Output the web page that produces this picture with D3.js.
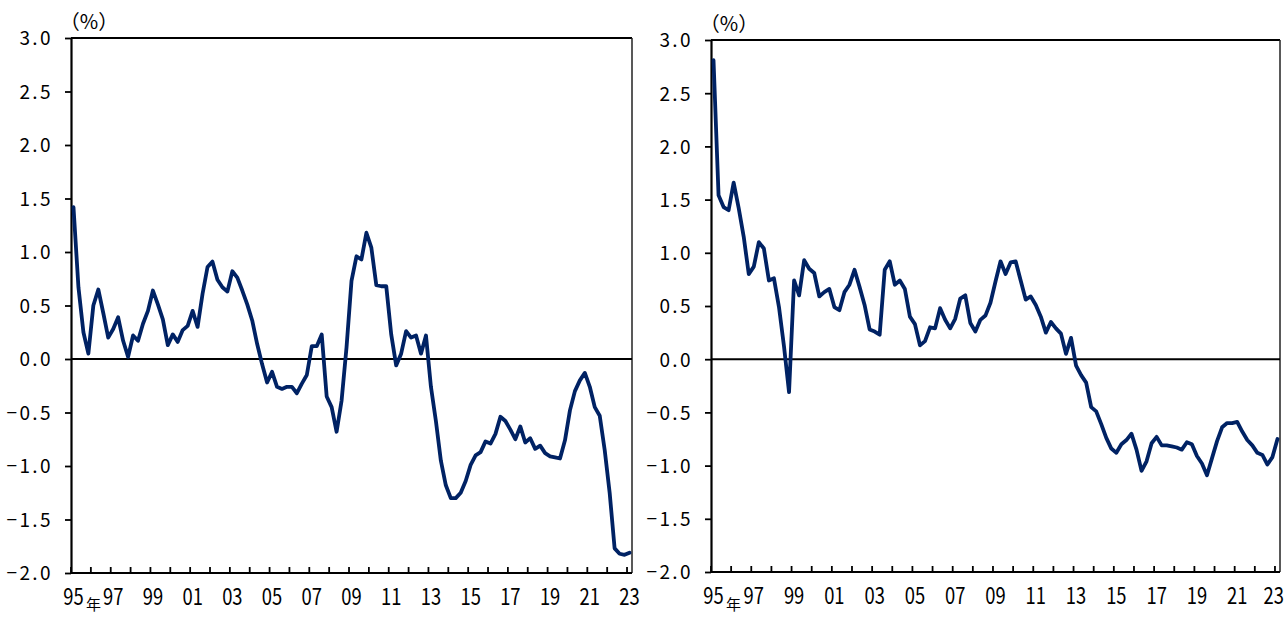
<!DOCTYPE html>
<html>
<head>
<meta charset="utf-8">
<script src="https://cdn.jsdelivr.net/npm/d3@7"></script>
<style>
  html, body { margin: 0; padding: 0; background: #ffffff; }
  svg { display: block; }
  text { font-family: "Noto Sans CJK JP", "Noto Sans", sans-serif; fill: #000; }
</style>
</head>
<body>
<svg id="chart" width="1285" height="617"></svg>
<script>
// Quarterly categories, 1995Q1 .. 2023Q1
const quarters = [];
for (let y = 1995; y <= 2023; y++) {
  for (let q = 1; q <= 4; q++) {
    if (y === 2023 && q > 1) break;
    quarters.push(y + "Q" + q);
  }
}

// Year labels shown every two years (placed on each year's first quarter)
const yearLabels = ["95","97","99","01","03","05","07","09","11","13","15","17","19","21","23"];
const labelYears = [1995,1997,1999,2001,2003,2005,2007,2009,2011,2013,2015,2017,2019,2021,2023];

// Y axis ticks (%)
const yTicks = [3.0, 2.5, 2.0, 1.5, 1.0, 0.5, 0.0, -0.5, -1.0, -1.5, -2.0];

// Left panel series (%)
const leftValues = [
  1.42, 0.67, 0.25, 0.05, 0.50, 0.65, 0.43, 0.20, 0.28, 0.39,
  0.17, 0.02, 0.22, 0.17, 0.33, 0.45, 0.64, 0.51, 0.37, 0.13,
  0.23, 0.16, 0.27, 0.31, 0.45, 0.30, 0.61, 0.86, 0.91, 0.74,
  0.67, 0.63, 0.82, 0.76, 0.64, 0.51, 0.36, 0.14, -0.05, -0.22,
  -0.12, -0.26, -0.28, -0.26, -0.26, -0.32, -0.23, -0.15, 0.12, 0.12,
  0.23, -0.35, -0.45, -0.68, -0.39, 0.11, 0.73, 0.96, 0.93, 1.18,
  1.04, 0.69, 0.68, 0.68, 0.23, -0.06, 0.05, 0.26, 0.20, 0.22,
  0.05, 0.22, -0.26, -0.58, -0.95, -1.18, -1.30, -1.30, -1.25, -1.14,
  -0.99, -0.90, -0.87, -0.77, -0.79, -0.70, -0.54, -0.58, -0.66, -0.75,
  -0.63, -0.78, -0.74, -0.84, -0.81, -0.88, -0.91, -0.92, -0.93, -0.76,
  -0.48, -0.30, -0.20, -0.13, -0.26, -0.45, -0.53, -0.85, -1.25, -1.77,
  -1.82, -1.83, -1.81
];

// Right panel series (%)
const rightValues = [
  2.81, 1.54, 1.43, 1.40, 1.66, 1.42, 1.15, 0.80, 0.87, 1.10,
  1.04, 0.74, 0.76, 0.49, 0.12, -0.31, 0.74, 0.60, 0.93, 0.85,
  0.81, 0.59, 0.63, 0.66, 0.49, 0.46, 0.63, 0.70, 0.84, 0.68,
  0.51, 0.28, 0.26, 0.23, 0.84, 0.92, 0.70, 0.74, 0.66, 0.40,
  0.33, 0.13, 0.17, 0.30, 0.29, 0.48, 0.37, 0.29, 0.38, 0.57,
  0.60, 0.34, 0.26, 0.37, 0.41, 0.53, 0.73, 0.92, 0.80, 0.91,
  0.92, 0.74, 0.56, 0.59, 0.51, 0.40, 0.25, 0.35, 0.29, 0.24,
  0.05, 0.20, -0.06, -0.15, -0.22, -0.45, -0.49, -0.61, -0.74, -0.84,
  -0.88, -0.80, -0.76, -0.70, -0.85, -1.05, -0.96, -0.79, -0.73, -0.81,
  -0.81, -0.82, -0.83, -0.85, -0.78, -0.80, -0.91, -0.98, -1.09, -0.93,
  -0.77, -0.64, -0.60, -0.60, -0.59, -0.68, -0.76, -0.81, -0.88, -0.90,
  -0.99, -0.92, -0.75
];

const svg = d3.select("#chart");
const LINE_COLOR = "#002264";
const SVG_WIDTH = 1285;

function drawPanel(values, box) {
  const g = svg.append("g");

  const x = d3.scaleBand().domain(quarters).range([box.left, box.right]).padding(0);
  const y = d3.scaleLinear().domain([-2, 3]).range([box.bottom, box.top]);
  const bw = x.bandwidth();

  // top and right frame
  g.append("line")
    .attr("x1", box.left).attr("x2", box.right)
    .attr("y1", box.top).attr("y2", box.top)
    .attr("stroke", "#000").attr("stroke-width", 2);
  g.append("line")
    .attr("x1", box.right).attr("x2", box.right)
    .attr("y1", box.top).attr("y2", box.bottom)
    .attr("stroke", "#222").attr("stroke-width", 1.5);

  // zero line
  g.append("line")
    .attr("x1", box.left).attr("x2", box.right)
    .attr("y1", y(0)).attr("y2", y(0))
    .attr("stroke", "#000").attr("stroke-width", 2);

  // y axis
  const yAxis = d3.axisLeft(y)
    .tickValues(yTicks)
    .tickSize(6)
    .tickSizeOuter(0)
    .tickPadding(12)
    .tickFormat(d => d3.format(".1f")(d).replace("-", "\u2212"));
  const ya = g.append("g")
    .attr("transform", `translate(${box.left},0)`)
    .call(yAxis);
  ya.select(".domain").attr("stroke", "#000").attr("stroke-width", 2.2);
  ya.selectAll(".tick line").attr("stroke", "#000").attr("stroke-width", 1.8);
  ya.selectAll(".tick text")
    .attr("font-size", 19)
    .attr("letter-spacing", "2.4px")
    .attr("dy", "0.36em")
    .style("font-family", '"Noto Sans CJK JP", sans-serif');

  // x axis: ticks at each year's first quarter, pointing into the plot
  const yearStarts = quarters.filter(q => q.endsWith("Q1"));
  const xa = g.append("g");
  xa.append("line")
    .attr("x1", box.left).attr("x2", box.right)
    .attr("y1", box.bottom).attr("y2", box.bottom)
    .attr("stroke", "#000").attr("stroke-width", 2.2);
  xa.selectAll("line.tick")
    .data(yearStarts)
    .join("line")
    .attr("class", "tick")
    .attr("x1", d => x(d)).attr("x2", d => x(d))
    .attr("y1", box.bottom).attr("y2", box.bottom - 6)
    .attr("stroke", "#000").attr("stroke-width", 1.8);

  const labelData = yearLabels.map((t, i) => ({ t, q: labelYears[i] + "Q1" }));
  xa.selectAll("text.year")
    .data(labelData)
    .join("text")
    .attr("class", "year")
    .attr("text-anchor", d => (x(d.q) + bw / 2 + 10 > SVG_WIDTH ? "end" : "middle"))
    .attr("font-size", 23)
    .attr("transform", d => {
      let cx = x(d.q) + bw / 2;
      if (cx + 10 > SVG_WIDTH) cx = SVG_WIDTH - 1;
      return `translate(${cx},${box.bottom + 32}) scale(0.8,1)`;
    })
    .text(d => d.t);

  // unit mark on the first label
  g.append("text")
    .attr("x", x(quarters[0]) + bw / 2 + 20)
    .attr("y", 610)
    .attr("text-anchor", "middle")
    .attr("font-size", 15)
    .text("年");

  // unit caption
  g.append("text")
    .attr("x", box.left + 18)
    .attr("y", box.top - 9)
    .attr("text-anchor", "middle")
    .attr("font-size", 20)
    .text("（%）");

  // series line
  const line = d3.line()
    .x((d, i) => x(quarters[i]) + bw / 2)
    .y(d => y(d))
    .curve(d3.curveLinear);
  g.append("path")
    .datum(values)
    .attr("d", line)
    .attr("fill", "none")
    .attr("stroke", LINE_COLOR)
    .attr("stroke-width", 3.8)
    .attr("stroke-linejoin", "round")
    .attr("stroke-linecap", "round");
}

drawPanel(leftValues, { left: 71, right: 632, top: 38, bottom: 573 });
drawPanel(rightValues, { left: 711, right: 1280, top: 40, bottom: 572 });
</script>
</body>
</html>
